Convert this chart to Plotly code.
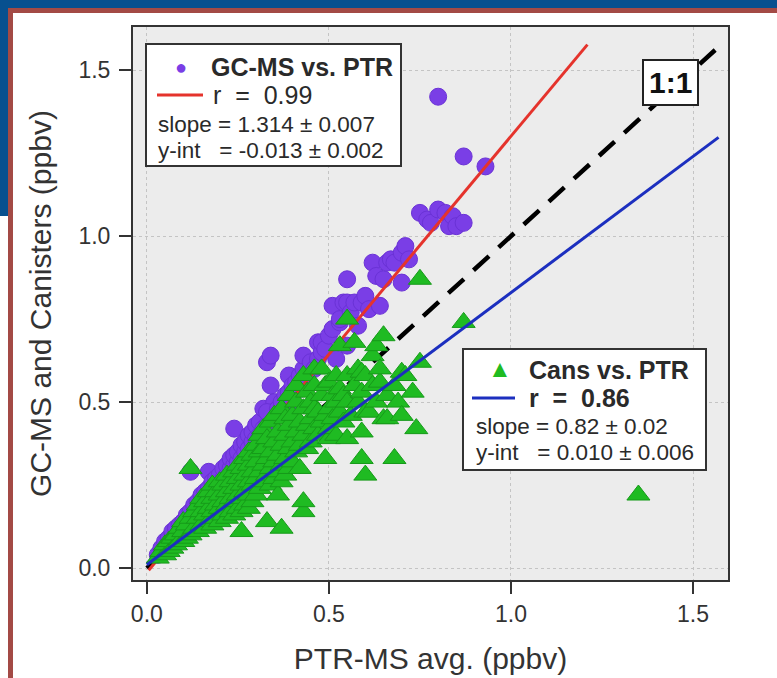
import plotly.graph_objects as go

# ---------------- data ----------------
gc_x = [0.03,0.04,0.05,0.05,0.06,0.06,0.07,0.07,0.08,0.08,0.09,0.09,0.10,0.10,0.11,0.11,0.12,0.12,0.12,0.13,0.13,0.14,0.14,0.15,0.15,
        0.16,0.16,0.17,0.17,0.17,0.18,0.18,0.19,0.19,0.20,0.20,0.21,0.21,0.22,0.22,0.23,0.23,0.24,0.24,0.24,0.25,0.25,0.26,0.26,0.27,0.27,
        0.28,0.28,0.29,0.29,0.30,0.30,0.31,0.31,0.32,0.32,0.33,0.33,0.34,0.34,0.35,0.35,0.33,0.34,0.36,0.37,0.38,0.38,0.39,0.39,0.40,0.40,
        0.41,0.42,0.42,0.43,0.43,0.44,0.45,0.46,0.47,0.47,0.48,0.48,0.49,0.50,0.51,0.51,0.52,0.53,0.53,0.54,0.55,0.55,0.55,0.56,0.57,0.58,
        0.59,0.60,0.61,0.62,0.63,0.64,0.65,0.66,0.67,0.68,0.70,0.70,0.71,0.72,0.75,0.77,0.78,0.80,0.82,0.83,0.84,0.85,0.87,0.80,0.87,0.93]
gc_y = [0.04,0.06,0.06,0.08,0.07,0.09,0.09,0.11,0.10,0.12,0.11,0.13,0.12,0.14,0.13,0.16,0.15,0.17,0.29,0.16,0.19,0.18,0.20,0.19,0.22,
        0.20,0.23,0.22,0.24,0.29,0.23,0.26,0.24,0.27,0.25,0.28,0.27,0.30,0.28,0.31,0.30,0.33,0.31,0.34,0.42,0.32,0.35,0.33,0.37,0.35,0.38,
        0.36,0.40,0.38,0.41,0.39,0.43,0.40,0.44,0.42,0.48,0.43,0.62,0.45,0.55,0.46,0.50,0.47,0.64,0.48,0.50,0.52,0.47,0.53,0.58,0.55,0.50,
        0.56,0.54,0.58,0.60,0.64,0.57,0.62,0.60,0.63,0.68,0.65,0.68,0.66,0.70,0.72,0.79,0.63,0.74,0.75,0.80,0.80,0.67,0.87,0.77,0.80,0.73,
        0.80,0.82,0.78,0.92,0.88,0.79,0.87,0.92,0.93,0.92,0.95,0.86,0.97,0.93,1.07,1.05,1.04,1.08,1.07,1.03,1.06,1.03,1.04,1.42,1.24,1.21]

can_x = [0.03,0.04,0.05,0.05,0.06,0.06,0.07,0.07,0.08,0.08,0.09,0.09,0.10,0.10,0.10,0.11,0.11,0.12,0.12,0.12,0.13,0.13,0.14,0.14,0.14,
         0.15,0.15,0.15,0.16,0.16,0.16,0.17,0.17,0.17,0.18,0.18,0.18,0.18,0.19,0.19,0.19,0.20,0.20,0.20,0.20,0.21,0.21,0.21,0.22,0.22,
         0.22,0.22,0.23,0.23,0.23,0.24,0.24,0.24,0.24,0.25,0.25,0.25,0.25,0.26,0.26,0.26,0.26,0.26,0.27,0.27,0.27,0.27,0.28,0.28,0.28,
         0.28,0.28,0.29,0.29,0.29,0.29,0.30,0.30,0.30,0.30,0.31,0.31,0.31,0.31,0.32,0.32,0.32,0.32,0.33,0.33,0.33,0.33,0.34,0.34,0.34,
         0.34,0.35,0.35,0.35,0.35,0.36,0.36,0.36,0.36,0.37,0.37,0.37,0.37,0.37,0.38,0.38,0.38,0.38,0.39,0.39,0.39,0.39,0.40,0.40,0.40,
         0.41,0.41,0.41,0.41,0.42,0.42,0.42,0.43,0.43,0.43,0.43,0.43,0.44,0.44,0.44,0.45,0.45,0.45,0.46,0.46,0.46,0.46,0.47,0.47,0.48,
         0.48,0.48,0.49,0.49,0.49,0.50,0.50,0.50,0.50,0.51,0.51,0.52,0.52,0.52,0.53,0.53,0.53,0.54,0.54,0.55,0.55,0.55,0.55,0.56,0.57,
         0.57,0.58,0.58,0.59,0.59,0.59,0.59,0.60,0.60,0.60,0.61,0.62,0.62,0.63,0.63,0.64,0.64,0.65,0.65,0.66,0.66,0.68,0.68,0.69,0.70,
         0.70,0.71,0.73,0.74,0.75,0.75,0.87,1.35]
can_y = [0.03,0.05,0.04,0.07,0.05,0.08,0.06,0.09,0.07,0.10,0.08,0.12,0.08,0.11,0.14,0.09,0.13,0.10,0.15,0.30,0.12,0.17,0.11,0.15,0.19,
         0.13,0.17,0.21,0.12,0.16,0.20,0.14,0.18,0.23,0.13,0.17,0.21,0.25,0.15,0.19,0.23,0.14,0.18,0.22,0.26,0.16,0.20,0.25,0.15,0.19,
         0.23,0.28,0.17,0.21,0.26,0.16,0.20,0.24,0.29,0.18,0.22,0.27,0.31,0.11,0.17,0.21,0.25,0.30,0.19,0.23,0.28,0.33,0.18,0.22,0.26,
         0.31,0.35,0.20,0.25,0.29,0.34,0.22,0.27,0.32,0.37,0.24,0.29,0.35,0.40,0.26,0.31,0.36,0.42,0.14,0.28,0.33,0.39,0.25,0.30,0.35,
         0.44,0.27,0.32,0.38,0.46,0.22,0.29,0.34,0.41,0.12,0.26,0.31,0.37,0.48,0.28,0.33,0.40,0.45,0.30,0.36,0.43,0.52,0.32,0.38,0.46,
         0.35,0.41,0.50,0.55,0.30,0.37,0.44,0.17,0.20,0.40,0.48,0.58,0.36,0.43,0.53,0.38,0.45,0.50,0.42,0.48,0.55,0.60,0.40,0.47,0.44,
         0.52,0.60,0.33,0.46,0.55,0.39,0.42,0.48,0.56,0.45,0.52,0.40,0.50,0.58,0.47,0.54,0.67,0.44,0.52,0.39,0.50,0.58,0.75,0.46,0.55,
         0.68,0.50,0.60,0.33,0.41,0.53,0.59,0.28,0.47,0.58,0.47,0.55,0.64,0.50,0.67,0.56,0.60,0.45,0.70,0.45,0.52,0.33,0.55,0.50,0.46,
         0.59,0.58,0.53,0.42,0.62,0.87,0.74,0.22]

gc_slope, gc_int = 1.314, -0.013
can_slope, can_int = 0.82, 0.010
gc_fit_x = [0.005, 1.21]
can_fit_x = [0.0, 1.57]
one_x = [0.0, 1.57]

x_ticks = [0.0, 0.5, 1.0, 1.5]
y_ticks = [0.0, 0.5, 1.0, 1.5]

gc_label = "GC-MS vs. PTR"
gc_r = "r\u00a0\u00a0=\u00a0\u00a00.99"
gc_slope_txt = "slope = 1.314 \u00b1 0.007"
gc_int_txt = "y-int\u00a0\u00a0\u00a0= -0.013 \u00b1 0.002"
can_label = "Cans vs. PTR"
can_r = "r\u00a0\u00a0=\u00a0\u00a00.86"
can_slope_txt = "slope = 0.82 \u00b1 0.02"
can_int_txt = "y-int\u00a0\u00a0\u00a0= 0.010 \u00b1 0.006"

# ---------------- styling ----------------
W, H = 777, 678
L, R, T, B = 133, 728, 27, 580
PURPLE = "#7a3ee6"
GREEN = "#1fbb22"
RED = "#e5332c"
BLUE = "#1c2fbf"
FONT = "Liberation Sans, Arial, sans-serif"
TXT = "#2a2a2a"

def px(x):
    return (x - L) / (R - L)

def py(y):
    return (B - y) / (B - T)

fig = go.Figure()

fig.add_trace(go.Scatter(x=one_x, y=one_x, mode="lines",
                         line=dict(color="black", width=4.5, dash="21px,13px"),
                         showlegend=False, hoverinfo="skip"))
fig.add_trace(go.Scatter(x=gc_x, y=gc_y, mode="markers",
                         marker=dict(symbol="circle", size=17, color=PURPLE,
                                     line=dict(color="#6a32d6", width=1)),
                         showlegend=False))
fig.add_trace(go.Scatter(x=gc_fit_x, y=[gc_slope * v + gc_int for v in gc_fit_x], mode="lines",
                         line=dict(color=RED, width=3), showlegend=False, hoverinfo="skip"))
fig.add_trace(go.Scatter(x=can_x, y=can_y, mode="markers",
                         marker=dict(symbol="triangle-up", size=20, color=GREEN,
                                     line=dict(color="#179a1a", width=1)),
                         showlegend=False))
fig.add_trace(go.Scatter(x=can_fit_x, y=[can_slope * v + can_int for v in can_fit_x], mode="lines",
                         line=dict(color=BLUE, width=3), showlegend=False, hoverinfo="skip"))

shapes = []
# slide frame
BLUE_F = "#07508f"
RED_F = "#a34a45"
def rect(x0, y0, x1, y1, color, layer="above", line=None):
    d = dict(type="rect", xref="paper", yref="paper",
             x0=px(x0), x1=px(x1), y0=py(y1), y1=py(y0),
             fillcolor=color, layer=layer, line=line or dict(width=0))
    return d

shapes.append(rect(0, 0, W, 8, BLUE_F))
shapes.append(rect(0, 0, 8, 216, BLUE_F))
shapes.append(rect(8, 8, W, 13, RED_F))
shapes.append(rect(8, 8, 13, H, RED_F))

# legend boxes
shapes.append(rect(146, 44, 401, 166, "white", line=dict(color="#333333", width=2)))
shapes.append(rect(463, 349, 706, 470, "white", line=dict(color="#333333", width=2)))
# legend line samples
shapes.append(dict(type="line", xref="paper", yref="paper", x0=px(157), x1=px(203), y0=py(95), y1=py(95),
                   line=dict(color=RED, width=3), layer="above"))
shapes.append(dict(type="line", xref="paper", yref="paper", x0=px(472), x1=px(515), y0=py(398), y1=py(398),
                   line=dict(color=BLUE, width=3), layer="above"))

ann = []
def text(x, y, s, size, color=TXT, anchor="left"):
    ann.append(dict(x=px(x), y=py(y), xref="paper", yref="paper", text=s, showarrow=False,
                    xanchor=anchor, yanchor="middle", font=dict(family=FONT, size=size, color=color)))

text(181, 67, "\u25cf", 20, PURPLE, "center")
text(209, 67, "<b>" + gc_label + "</b>", 25)
text(211, 95, gc_r, 25)
text(156, 124, gc_slope_txt, 22.5)
text(156, 150, gc_int_txt, 22.5)

text(500, 369, "\u25b2", 24, GREEN, "center")
text(527, 370, "<b>" + can_label + "</b>", 25)
text(527, 398, "<b>" + can_r + "</b>", 25)
text(474, 426, can_slope_txt, 22.5)
text(474, 452, can_int_txt, 22.5)

ann.append(dict(x=px(670), y=py(82), xref="paper", yref="paper", text="<b>1:1</b>", showarrow=False,
                xanchor="center", yanchor="middle", font=dict(family=FONT, size=30, color="#111"),
                bgcolor="white", bordercolor="#222", borderwidth=2, borderpad=5))

axis_common = dict(showline=True, linecolor="#333333", linewidth=2, mirror=True,
                   ticks="outside", ticklen=12, tickwidth=2, tickcolor="#333333",
                   showgrid=True, gridcolor="#c4c4c4", griddash="dot", gridwidth=1,
                   zeroline=False, tickformat=".1f", automargin=False,
                   tickfont=dict(family=FONT, size=23, color="#333333"))

fig.update_layout(
    width=W, height=H,
    margin=dict(l=L, r=W - R, t=T, b=H - B),
    paper_bgcolor="white", plot_bgcolor="#ececec",
    xaxis=dict(range=[-0.038, 1.596], tickvals=x_ticks, **axis_common,
               title=dict(text="PTR-MS avg. (ppbv)", standoff=22,
                          font=dict(family=FONT, size=30, color="#333333"))),
    yaxis=dict(range=[-0.036, 1.63], tickvals=y_ticks, **axis_common,
               ticklabelstandoff=4,
               title=dict(text="GC-MS and Canisters (ppbv)", standoff=18,
                          font=dict(family=FONT, size=30, color="#333333"))),
    shapes=shapes, annotations=ann, showlegend=False,
)

fig.write_html("out.html")
